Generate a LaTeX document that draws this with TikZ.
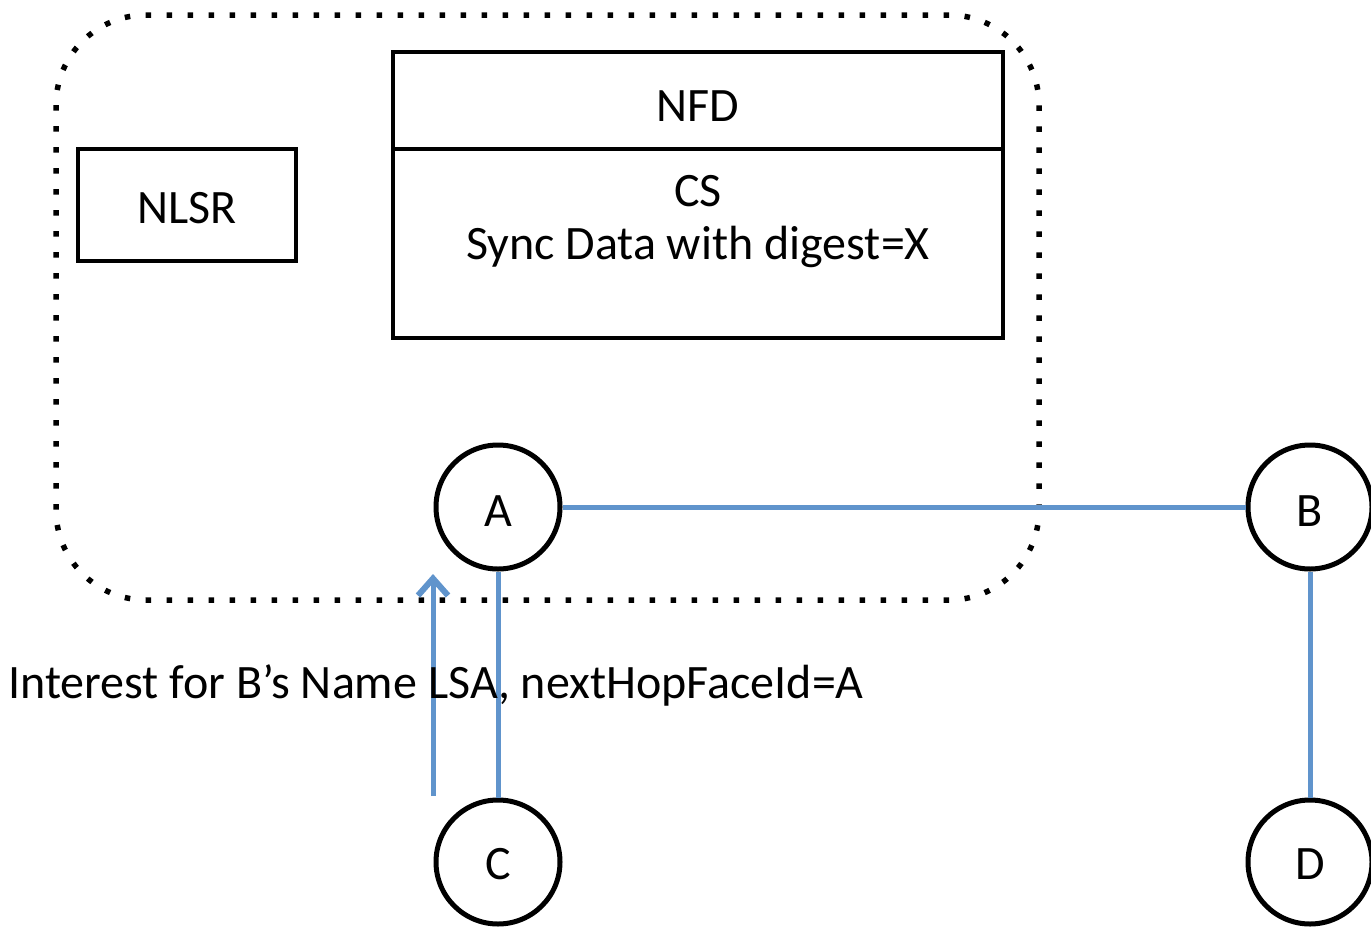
\documentclass[tikz,border=0pt]{standalone}
\usepackage{fontspec}
\setmainfont{Carlito}
\usetikzlibrary{arrows.meta}
\definecolor{linkblue}{RGB}{96,148,204}
\begin{document}
\begin{tikzpicture}[x=1pt,y=-1pt,
  every node/.style={font=\fontsize{48}{57}\selectfont},
  boxstyle/.style={draw=black,line width=4.5pt,rectangle,inner sep=0pt},
  router/.style={draw=black,line width=5pt,circle,minimum size=124pt,inner sep=0pt},
  link/.style={draw=linkblue,line width=5pt},
  group/.style={draw=black,line width=5.5pt,dash pattern=on 5.5pt off 15.5pt,rounded corners=90pt}]
\useasboundingbox (0,0) rectangle (1371,929);
% dotted group
\draw[group] (56,15) rectangle (1039,600);
% NLSR
\node[boxstyle,minimum width=218pt,minimum height=112pt] (nlsr) at (187,205) {};
\node (nlsrt) at (187,208) {NLSR};
% NFD box
\node[boxstyle,minimum width=610pt,minimum height=286pt] (nfd) at (698,195) {};
\coordinate (divL) at (393,149);
\coordinate (divR) at (1003,149);
\draw[line width=4.5pt] (divL) -- (divR);
\node (nfdt) at (698,106) {NFD};
\node (cs) at (698,191) {CS};
\node (sync) at (698,247) {Sync Data with digest=X};
% routers
\node[router] (A) at (498,507) {};
\node[router] (B) at (1310,507) {};
\node[router] (C) at (498,862) {};
\node[router] (D) at (1310,862) {};
\node at (498,511) {A};
\node at (1310,511) {B};
\node at (498,864) {C};
\node at (1310,864) {D};
% links
\draw[link] (A) -- (B);
\draw[link] (A) -- (C);
\draw[link] (B) -- (D);
% interest arrow
\coordinate (arrS) at (433,796);
\coordinate (arrE) at (433,574);
\draw[link,-{Straight Barb[length=17pt,width=30pt,line width=6pt]}] (arrS) -- (arrE);
\node[anchor=west,inner sep=0pt] (lbl) at (8,685) {Interest for B’s Name LSA, nextHopFaceId=A};
\end{tikzpicture}
\end{document}
